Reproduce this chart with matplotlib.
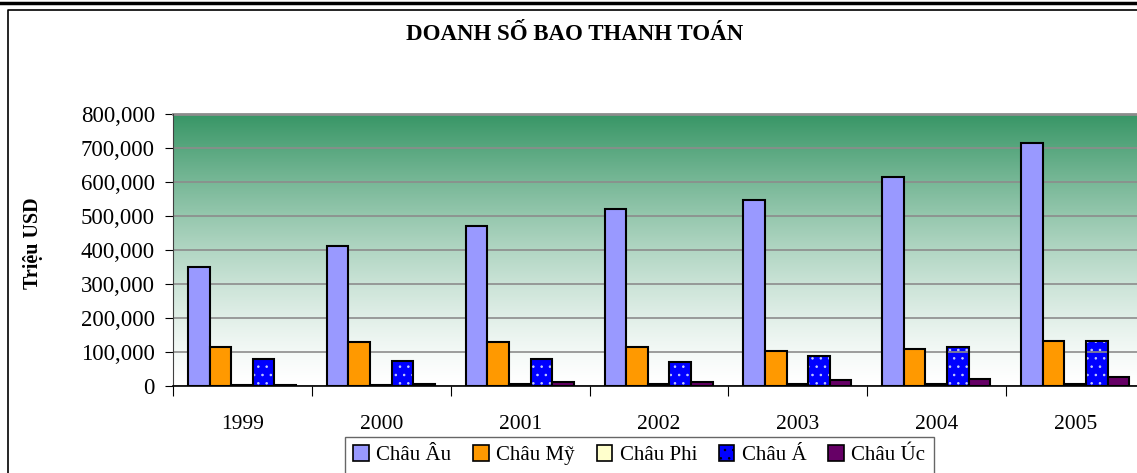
import numpy as np
import matplotlib
matplotlib.use("Agg")
import matplotlib.pyplot as plt
from matplotlib.patches import Patch
from matplotlib.lines import Line2D
from matplotlib.ticker import FuncFormatter
from matplotlib.colors import LinearSegmentedColormap

plt.rcParams['font.family'] = ['Liberation Serif', 'DejaVu Serif']
plt.rcParams['hatch.linewidth'] = 0.6

# data (trieu USD)
years = ["1999", "2000", "2001", "2002", "2003", "2004", "2005"]
series_names = ["Châu Âu", "Châu Mỹ", "Châu Phi", "Châu Á", "Châu Úc"]
chau_au = [351000, 413000, 470000, 521000, 547000, 614000, 716000]
chau_my = [114000, 128000, 128000, 114000, 104000, 109000, 133000]
chau_phi = [3000, 4000, 5000, 5000, 6000, 6000, 6000]
chau_a = [78000, 73000, 78000, 72000, 88000, 114000, 133000]
chau_uc = [4000, 5000, 12000, 12000, 17000, 22000, 26000]
colors = ["#9999FF", "#FF9900", "#FFFFCC", "#0000FF", "#660066"]

W, H = 1137, 473
fig = plt.figure(figsize=(W / 100, H / 100), dpi=100)

# chart frame
fig.add_artist(Line2D([0, 1], [1 - 3 / H, 1 - 3 / H], transform=fig.transFigure,
                      color="black", lw=2.5))
fig.add_artist(Line2D([8 / W, 8 / W, 1.01], [-0.01, 1 - 10 / H, 1 - 10 / H],
                      transform=fig.transFigure, color="black", lw=1.2))

ax = fig.add_axes([173 / W, 87 / H, 972 / W, 272 / H])

# gradient background
green = np.array([56, 150, 102]) / 255
grad = np.linspace(0, 1, 256) ** 1.35
cmap = LinearSegmentedColormap.from_list("bg", ["white", green])
ax.imshow(grad[::-1, None], extent=[-0.5, 6.5, 0, 800000], aspect="auto",
          cmap=cmap, vmin=0, vmax=1, zorder=0, interpolation="bilinear")

ax.set_xlim(-0.5, 6.5)
ax.set_ylim(0, 800000)
ax.set_yticks(np.arange(0, 800001, 100000))
ax.yaxis.set_major_formatter(FuncFormatter(lambda v, p: f"{int(v):,}"))
ax.grid(axis="y", color="#8c8c8c", lw=1.2, zorder=1)
ax.set_axisbelow(False)

x = np.arange(len(years))
w = 0.1556
start = -0.5 + 0.108
all_series = [chau_au, chau_my, chau_phi, chau_a, chau_uc]
for i, (vals, col) in enumerate(zip(all_series, colors)):
    left = x + start + i * w
    if series_names[i] == "Châu Á":
        ax.bar(left, vals, width=w, align="edge", color=col, edgecolor="#c8d0ff",
               hatch="..", lw=0, zorder=2)
        ax.bar(left, vals, width=w, align="edge", fill=False, edgecolor="black",
               lw=1.5, zorder=3)
    else:
        ax.bar(left, vals, width=w, align="edge", color=col, edgecolor="black",
               lw=1.5, zorder=3)

# axes styling
for s in ["top", "right"]:
    ax.spines[s].set_visible(False)
ax.spines["left"].set_color("#404040")
ax.spines["left"].set_zorder(4)
ax.spines["bottom"].set_color("black")
ax.spines["bottom"].set_linewidth(1.2)
ax.spines["bottom"].set_zorder(4)
ax.axhline(800000, color="#8c8c8c", lw=2, zorder=4, clip_on=False)

ax.set_xticks(np.arange(-0.5, 7, 1))
ax.set_xticklabels([])
ax.tick_params(axis="x", which="major", length=7, direction="out", color="black")
ax.set_xticks(x, minor=True)
ax.set_xticklabels(years, minor=True, fontsize=15.5)
ax.tick_params(axis="x", which="minor", length=0, pad=21)
ax.tick_params(axis="y", length=6, direction="out", labelsize=16.5, pad=7)

ax.set_ylabel("Triệu USD", fontsize=14.5, fontweight="bold")
ax.yaxis.set_label_coords((43 - 173) / 972, (386 - 243) / 272)

fig.text(575 / W, 1 - 34 / H, "DOANH SỐ BAO THANH TOÁN", ha="center", va="center",
         fontsize=16.5, fontweight="bold")

handles = []
for name, col in zip(series_names, colors):
    if name == "Châu Á":
        handles.append(Patch(facecolor=col, edgecolor="black", hatch="..", lw=1.2))
    else:
        handles.append(Patch(facecolor=col, edgecolor="black", lw=1.2))
leg = fig.legend(handles, series_names, loc="upper left",
                 bbox_to_anchor=(345 / W, 1 - 437 / H), ncol=5, fontsize=15,
                 frameon=True, fancybox=False, handlelength=0.75, handleheight=0.75,
                 handletextpad=0.35, columnspacing=1.05, borderpad=0.4,
                 borderaxespad=0)
leg.get_frame().set_edgecolor("#404040")
leg.get_frame().set_linewidth(1.0)

fig.savefig("out.png", dpi=100)
